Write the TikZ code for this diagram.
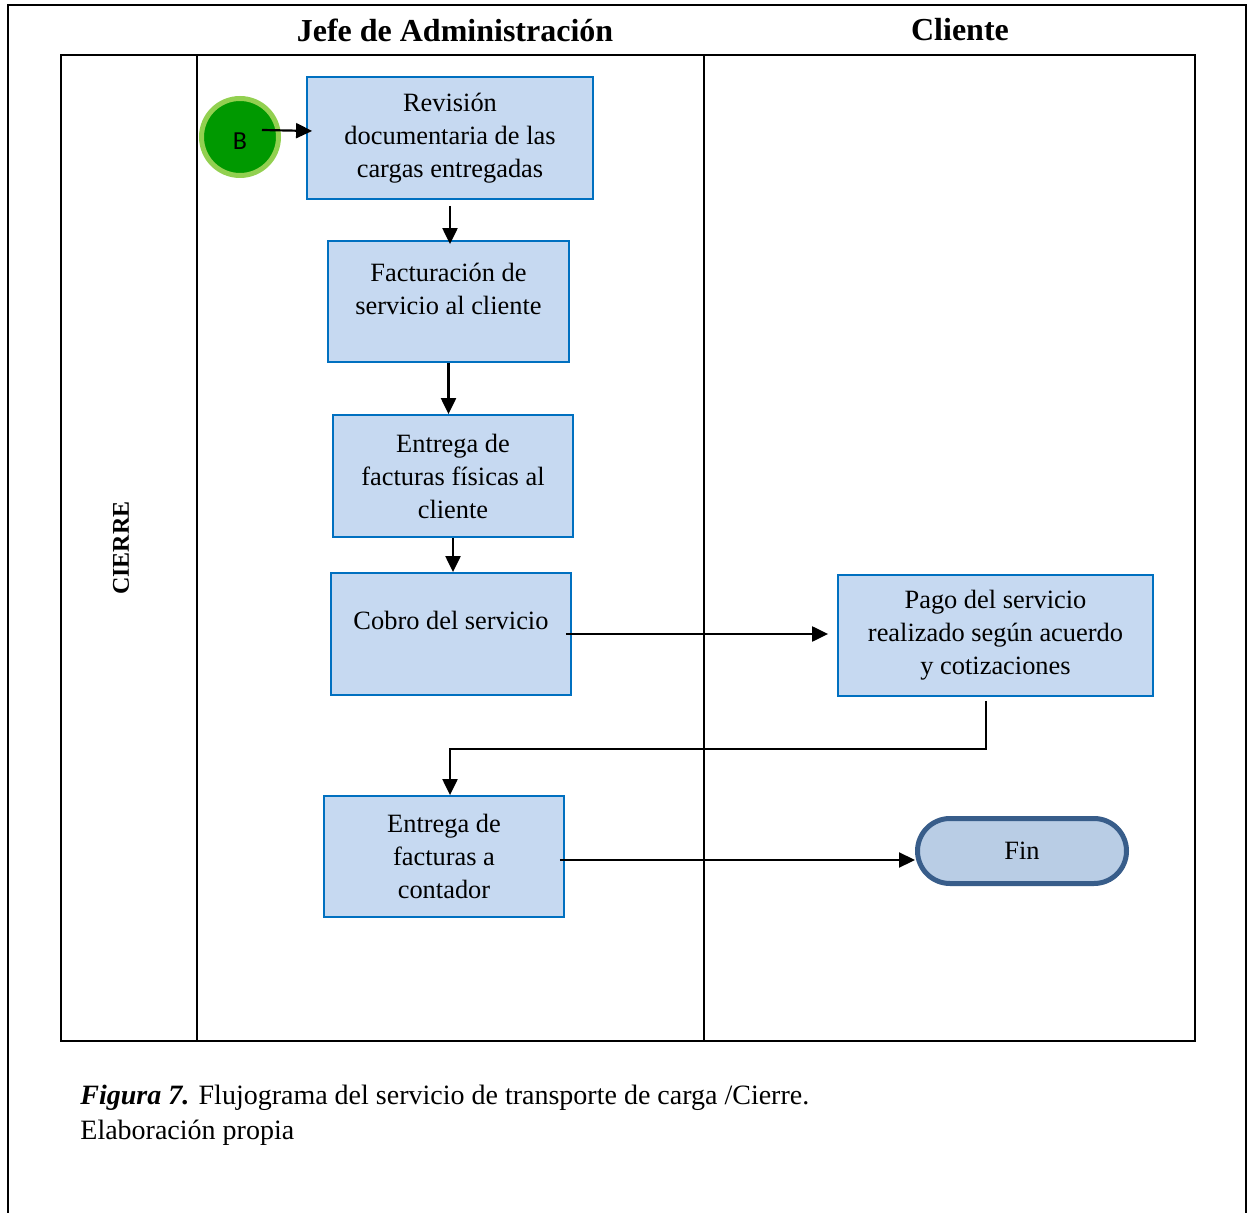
\documentclass[tikz,border=0pt]{standalone}
\usepackage{fontspec}
\setmainfont{Liberation Serif}
\newfontfamily\calibrifont{Carlito}
\usetikzlibrary{positioning,arrows.meta}
\definecolor{procfill}{HTML}{C6D9F1}
\definecolor{procline}{HTML}{0070C0}
\definecolor{finfill}{HTML}{B9CDE5}
\definecolor{finline}{HTML}{385D8A}
\definecolor{conecfill}{HTML}{009900}
\definecolor{conecline}{HTML}{92D050}

\begin{document}
\begin{tikzpicture}[x=0.5pt, y=-0.5pt,
  proc/.style={draw=procline, line width=0.9pt, fill=procfill, rectangle, inner sep=0pt,
    align=center, minimum width=120pt, minimum height=61pt,
    font=\fontsize{13.2}{16.5}\selectfont},
  arr/.style={line width=1.1pt, -{Triangle[length=8pt,width=7.5pt]}},
  lane/.style={line width=1pt}]
  \useasboundingbox (0,0) rectangle (1247,1213);
  \draw[line width=0.9pt] (8,1213) -- (8,5) -- (1246,5) -- (1246,1213);

  \draw[lane] (61,55) rectangle (1195,1041);
  \draw[lane] (197,55) -- (197,1041);
  \draw[lane] (704,55) -- (704,1041);

  \node[font=\fontsize{16}{19}\selectfont\bfseries] (jefe) at (455,30) {Jefe de Administración};
  \node[font=\fontsize{16}{19}\selectfont\bfseries] (cliente) at (960,30) {Cliente};
  \node[rotate=90, font=\fontsize{12}{14}\selectfont\bfseries] (cierre) at (121,548) {CIERRE};

  \node[circle, draw=conecline, line width=2.5pt, fill=conecfill, minimum size=38.5pt, inner sep=0pt,
        font=\calibrifont\fontsize{13}{15}\selectfont] (b) at (240,137) {\raisebox{-2pt}[\height][0pt]{B}};

  \node[proc, minimum width=143pt] (rev) at (450,138) {Revisión\\documentaria de las\\cargas entregadas};
  \node[proc, minimum width=120.5pt, minimum height=60.5pt] (fact) at (448.5,301.5) {Facturación de\\servicio al cliente\\[-4pt]~};
  \node[proc] (entrega) at (453,476) {Entrega de\\facturas físicas al\\cliente};
  \node[proc] (cobro) at (451,634) {Cobro del servicio\\[-3pt]~};
  \node[proc, minimum width=157.5pt, minimum height=60.5pt] (pago) at (995.5,635.5) {Pago del servicio\\realizado según acuerdo\\y cotizaciones};
  \node[proc, minimum height=60.5pt] (conta) at (444,856.5) {Entrega de\\facturas a\\contador};
  \node[draw=finline, line width=2.5pt, fill=finfill, rounded corners=16.25pt, minimum width=104.5pt,
        minimum height=32.5pt, font=\fontsize{13.2}{16.5}\selectfont] (fin) at (1022,851) {Fin};

  \coordinate (pagoin) at ([xshift=-4.5pt]pago.west);
  \coordinate (codo) at (450,749);

  \draw[arr] ([xshift=11pt,yshift=3.5pt]b.center) -- ([xshift=3pt,yshift=3.5pt]rev.west);
  \draw[arr] ([yshift=-3pt]rev.south) -- ([yshift=-2pt]rev.south |- fact.north);
  \draw[arr] (fact.south) -- (fact.south |- entrega.north);
  \draw[arr] (entrega.south) -- (entrega.south |- cobro.north);
  \draw[arr] ([xshift=-3pt]cobro.east) -- (cobro.east -| pagoin);
  \draw[arr] ([xshift=-4.75pt,yshift=-2pt]pago.south) |- (codo) -- (codo |- conta.north);
  \draw[arr] ([xshift=-2.5pt,yshift=-1.75pt]conta.east) -- ([yshift=-4.5pt]fin.west);

  \node[anchor=base west, align=left, inner sep=0pt, font=\fontsize{14}{17.5}\selectfont] (pie) at (80,1139)
    {\textbf{\textit{Figura 7.}} Flujograma del servicio de transporte de carga /Cierre.\\Elaboración propia};
\end{tikzpicture}
\end{document}
